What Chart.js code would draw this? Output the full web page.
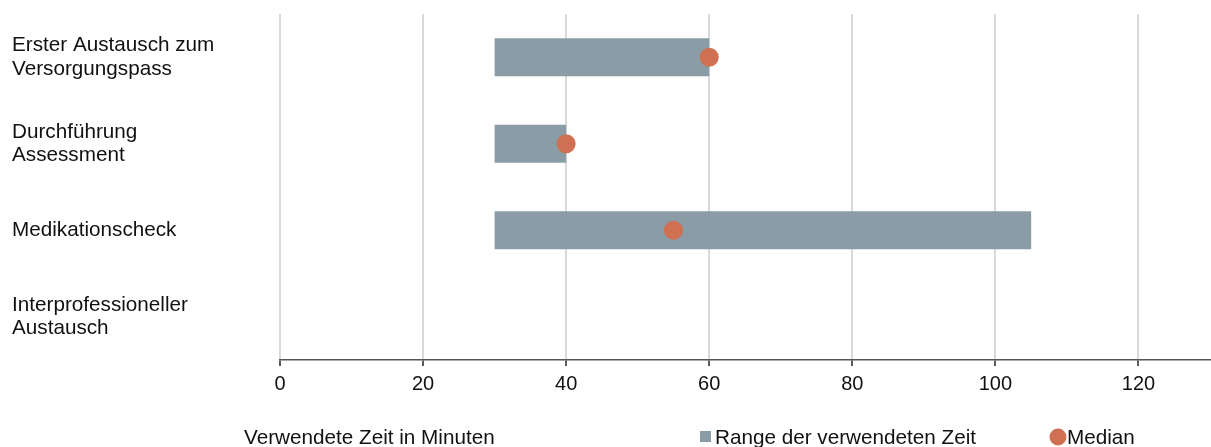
<!DOCTYPE html>
<html lang="de">
<head>
<meta charset="utf-8">
<title>Verwendete Zeit</title>
<script src="https://cdn.jsdelivr.net/npm/chart.js@4.4.1/dist/chart.umd.min.js"></script>
<style>
  html, body { margin: 0; padding: 0; background: #ffffff; }
  #wrap { position: relative; width: 1211px; height: 447px; }
</style>
</head>
<body>
<div id="wrap"><canvas id="chart" width="1211" height="447"></canvas></div>
<script>
// Tätigkeiten (zweizeilige Beschriftungen als Arrays)
const categories = [
  ['Erster Austausch zum', 'Versorgungspass'],
  ['Durchführung', 'Assessment'],
  ['Medikationscheck'],
  ['Interprofessioneller', 'Austausch']
];
// Minimum und Maximum der verwendeten Zeit in Minuten
const rangeMin = [30, 30, 30, null];
const rangeMax = [60, 40, 105, null];
// Median der verwendeten Zeit in Minuten
const medianValues = [60, 40, 55, null];
// Achse
const axisMin = 0;
const axisMax = 130;
const axisStep = 20;
const axisTitle = 'Verwendete Zeit in Minuten';
const rangeLabel = 'Range der verwendeten Zeit';
const medianLabel = 'Median';

const BAR_COLOR = '#8a9ca6';
const MEDIAN_COLOR = '#d07052';
const FONT = "'Liberation Sans', Arial, sans-serif";
const TEXT_SIZE = 20.7;

const rangeData = rangeMin.map((lo, i) => (lo === null ? null : [lo, rangeMax[i]]));

// Achsentitel und Legende in der Fußzeile
const footerPlugin = {
  id: 'footer',
  afterDraw(chart) {
    const ctx = chart.ctx;
    ctx.save();
    ctx.font = TEXT_SIZE + 'px ' + FONT;
    ctx.fillStyle = '#111111';
    ctx.textBaseline = 'alphabetic';
    ctx.textAlign = 'left';
    const baseY = 444;
    ctx.fillText(axisTitle, 244, baseY);

    ctx.fillStyle = BAR_COLOR;
    ctx.fillRect(700, 431, 11, 11);
    ctx.fillStyle = '#111111';
    ctx.fillText(rangeLabel, 715, baseY);

    ctx.fillStyle = MEDIAN_COLOR;
    ctx.beginPath();
    ctx.arc(1058, 437, 8.5, 0, Math.PI * 2);
    ctx.fill();
    ctx.fillStyle = '#111111';
    ctx.fillText(medianLabel, 1067, baseY);
    ctx.restore();
  }
};

new Chart(document.getElementById('chart'), {
  type: 'bar',
  data: {
    labels: categories,
    datasets: [
      {
        type: 'line',
        label: medianLabel,
        data: medianValues,
        showLine: false,
        pointRadius: 9.5,
        pointHoverRadius: 9.5,
        pointBackgroundColor: MEDIAN_COLOR,
        pointBorderWidth: 0,
        borderColor: MEDIAN_COLOR,
        order: 0
      },
      {
        label: rangeLabel,
        data: rangeData,
        backgroundColor: BAR_COLOR,
        borderWidth: 0,
        categoryPercentage: 1,
        barPercentage: 0.44,
        order: 1
      }
    ]
  },
  options: {
    indexAxis: 'y',
    responsive: false,
    animation: false,
    events: [],
    layout: {
      autoPadding: false,
      padding: { top: 14, right: 1, left: 12, bottom: 0 }
    },
    plugins: {
      legend: { display: false },
      tooltip: { enabled: false }
    },
    scales: {
      x: {
        type: 'linear',
        min: axisMin,
        max: axisMax,
        afterFit(scale) {
          scale.height = 87;
          scale.paddingLeft = 0;
          scale.paddingRight = 0;
        },
        ticks: {
          stepSize: axisStep,
          includeBounds: false,
          color: '#111111',
          font: { family: FONT, size: 20 },
          padding: 6
        },
        grid: {
          color: '#d9d9d9',
          lineWidth: 2,
          tickColor: '#222222',
          tickLength: 6,
          tickWidth: 1.5
        },
        border: { display: true, color: '#555555', width: 1.5 }
      },
      y: {
        type: 'category',
        afterFit(scale) {
          scale.width = 268;
          scale.paddingTop = 0;
          scale.paddingBottom = 0;
        },
        ticks: {
          crossAlign: 'far',
          color: '#111111',
          font: { family: FONT, size: TEXT_SIZE, lineHeight: 1.15 },
          padding: 12
        },
        grid: { display: false },
        border: { display: false }
      }
    }
  },
  plugins: [footerPlugin]
});
</script>
</body>
</html>
